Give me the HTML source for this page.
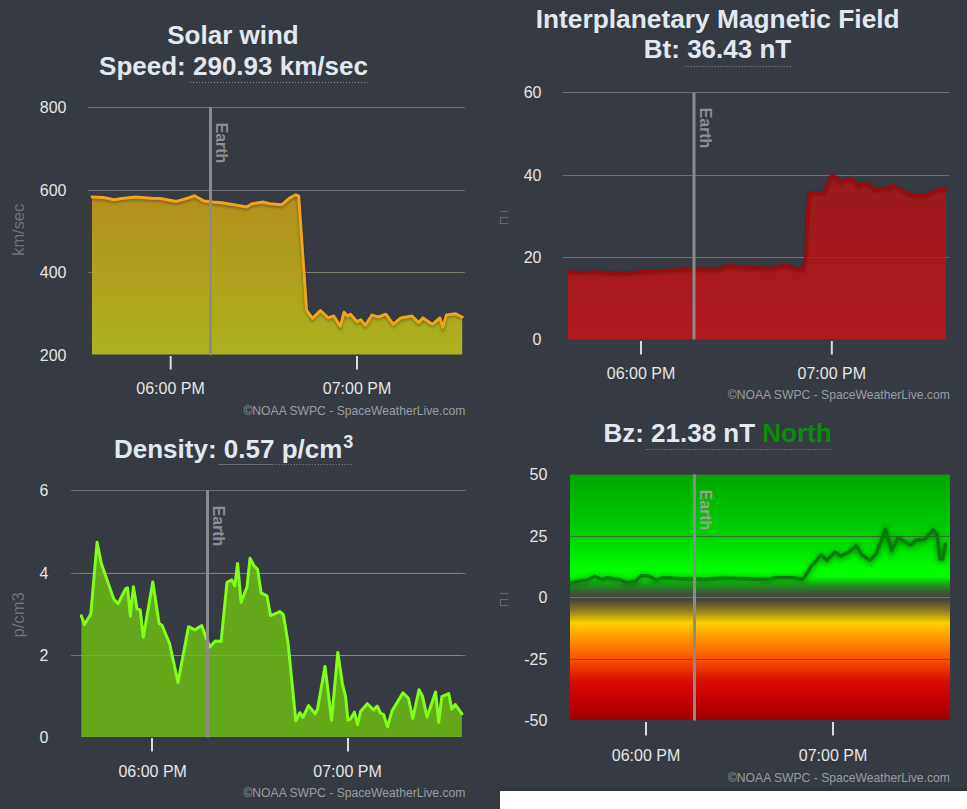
<!DOCTYPE html>
<html><head><meta charset="utf-8"><style>
html,body{margin:0;padding:0;width:967px;height:809px;overflow:hidden;background:#363a42;}
body{position:relative;font-family:"Liberation Sans", sans-serif;}
.t{position:absolute;white-space:nowrap;line-height:1;}
.ttl{font-weight:bold;font-size:26px;color:#e2e8f0;text-align:center;}
.u{border-bottom:1px dotted #8a9098;}
.yl{font-size:16px;color:#e6e6e6;text-align:right;}
.xl{font-size:16px;color:#e6e6e6;text-align:center;}
.cr{font-size:12px;color:#9a9ea4;text-align:right;}
.earth{font-weight:bold;font-size:16px;color:#8e9092;transform-origin:0 0;transform:rotate(90deg);}
.ax{font-size:16px;color:#70747a;transform-origin:0 0;transform:rotate(-90deg);}
</style></head><body>
<svg width="967" height="809" viewBox="0 0 967 809" style="position:absolute;left:0;top:0">
<defs>
<linearGradient id="gsw" x1="0" y1="107" x2="0" y2="355" gradientUnits="userSpaceOnUse">
 <stop offset="0" stop-color="#b8861c"/><stop offset="0.4" stop-color="#b2921c"/><stop offset="1" stop-color="#acb31e"/>
</linearGradient>
<linearGradient id="gimf" x1="0" y1="92" x2="0" y2="340" gradientUnits="userSpaceOnUse">
 <stop offset="0" stop-color="#8f1a1e"/><stop offset="1" stop-color="#b0181c"/>
</linearGradient>
<linearGradient id="gbz" x1="0" y1="474.5" x2="0" y2="720" gradientUnits="userSpaceOnUse">
 <stop offset="0" stop-color="#00a600"/>
 <stop offset="0.2505" stop-color="#00d200"/>
 <stop offset="0.389" stop-color="#00ff00"/>
 <stop offset="0.4175" stop-color="#00fa00"/>
 <stop offset="0.45" stop-color="#1a9a1a"/>
 <stop offset="0.4786" stop-color="#3a5a3a"/>
 <stop offset="0.501" stop-color="#444640"/>
 <stop offset="0.511" stop-color="#4a4438"/>
 <stop offset="0.552" stop-color="#8a7a20"/>
 <stop offset="0.593" stop-color="#e0c000"/>
 <stop offset="0.605" stop-color="#ffd000"/>
 <stop offset="0.654" stop-color="#ffa000"/>
 <stop offset="0.7145" stop-color="#ff7000"/>
 <stop offset="0.776" stop-color="#f04000"/>
 <stop offset="0.837" stop-color="#d81000"/>
 <stop offset="0.898" stop-color="#cc0000"/>
 <stop offset="1" stop-color="#a00000"/>
</linearGradient>
<linearGradient id="gbzfill" x1="0" y1="540" x2="0" y2="597" gradientUnits="userSpaceOnUse">
 <stop offset="0" stop-color="#000" stop-opacity="0.25"/><stop offset="1" stop-color="#000" stop-opacity="0.7"/>
</linearGradient>
<filter id="sh" x="-5%" y="-20%" width="110%" height="140%"><feGaussianBlur stdDeviation="1.5"/></filter>
<filter id="sh2" x="-5%" y="-20%" width="110%" height="140%"><feGaussianBlur stdDeviation="2.5"/></filter><filter id="soft" x="-5%" y="-20%" width="110%" height="140%"><feGaussianBlur stdDeviation="0.5"/></filter>
</defs>
<rect width="967" height="809" fill="#363a42"/>
<line x1="88" y1="107.5" x2="465" y2="107.5" stroke="#6b6e74" stroke-width="1"/>
<line x1="88" y1="190.5" x2="465" y2="190.5" stroke="#6b6e74" stroke-width="1"/>
<line x1="88" y1="272.5" x2="465" y2="272.5" stroke="#6b6e74" stroke-width="1"/>
<path d="M92.0,197.0 L103.6,197.5 L113.9,199.8 L121.8,198.5 L135.5,197.0 L151.4,198.2 L160.5,198.6 L176.4,201.4 L190.0,197.5 L194.5,195.7 L203.6,200.9 L212.7,202.0 L221.8,202.7 L235.5,205.0 L246.8,207.0 L251.4,203.9 L262.7,202.0 L270.0,203.7 L281.9,204.7 L289.8,197.8 L295.7,194.8 L298.7,196.2 L306.6,310.5 L312.5,318.4 L320.4,310.5 L328.2,317.9 L333.8,316.0 L340.3,326.3 L344.0,312.3 L347.7,316.0 L350.5,314.2 L357.0,321.7 L360.8,319.8 L365.4,325.4 L371.9,315.1 L378.4,317.0 L385.9,314.2 L393.3,324.4 L400.8,317.9 L412.0,316.0 L418.5,322.6 L423.1,317.9 L432.4,324.4 L439.9,317.9 L442.7,327.2 L446.4,315.1 L455.7,313.8 L462.2,317.0 L462.2,354.5 L92.0,354.5 Z" fill="url(#gsw)"/>
<line x1="92" y1="272.5" x2="462" y2="272.5" stroke="#c0b040" stroke-opacity="0.25" stroke-width="1"/>
<path d="M92.0,198.5 L103.6,199.0 L113.9,201.3 L121.8,200.0 L135.5,198.5 L151.4,199.7 L160.5,200.1 L176.4,202.9 L190.0,199.0 L194.5,197.2 L203.6,202.4 L212.7,203.5 L221.8,204.2 L235.5,206.5 L246.8,208.5 L251.4,205.4 L262.7,203.5 L270.0,205.2 L281.9,206.2 L289.8,199.3 L295.7,196.3 L298.7,197.7 L306.6,312.0 L312.5,319.9 L320.4,312.0 L328.2,319.4 L333.8,317.5 L340.3,327.8 L344.0,313.8 L347.7,317.5 L350.5,315.7 L357.0,323.2 L360.8,321.3 L365.4,326.9 L371.9,316.6 L378.4,318.5 L385.9,315.7 L393.3,325.9 L400.8,319.4 L412.0,317.5 L418.5,324.1 L423.1,319.4 L432.4,325.9 L439.9,319.4 L442.7,328.7 L446.4,316.6 L455.7,315.3 L462.2,318.5" fill="none" stroke="#000" stroke-opacity="0.35" stroke-width="3" filter="url(#sh)"/>
<path d="M92.0,197.0 L103.6,197.5 L113.9,199.8 L121.8,198.5 L135.5,197.0 L151.4,198.2 L160.5,198.6 L176.4,201.4 L190.0,197.5 L194.5,195.7 L203.6,200.9 L212.7,202.0 L221.8,202.7 L235.5,205.0 L246.8,207.0 L251.4,203.9 L262.7,202.0 L270.0,203.7 L281.9,204.7 L289.8,197.8 L295.7,194.8 L298.7,196.2 L306.6,310.5 L312.5,318.4 L320.4,310.5 L328.2,317.9 L333.8,316.0 L340.3,326.3 L344.0,312.3 L347.7,316.0 L350.5,314.2 L357.0,321.7 L360.8,319.8 L365.4,325.4 L371.9,315.1 L378.4,317.0 L385.9,314.2 L393.3,324.4 L400.8,317.9 L412.0,316.0 L418.5,322.6 L423.1,317.9 L432.4,324.4 L439.9,317.9 L442.7,327.2 L446.4,315.1 L455.7,313.8 L462.2,317.0" fill="none" stroke="#f2a51a" stroke-width="3" stroke-linejoin="round" stroke-linecap="round"/>
<rect x="209" y="107" width="3" height="248" fill="#8a8c8a"/>
<line x1="71" y1="490.5" x2="465.5" y2="490.5" stroke="#6b6e74" stroke-width="1"/>
<line x1="71" y1="573.5" x2="465.5" y2="573.5" stroke="#6b6e74" stroke-width="1"/>
<line x1="71" y1="655.5" x2="465.5" y2="655.5" stroke="#6b6e74" stroke-width="1"/>
<path d="M81.3,615.8 L84.5,624.6 L90.8,614.1 L97.1,542.2 L101.3,563.6 L106.5,578.3 L113.9,599.4 L118.1,603.6 L125.5,588.9 L127.6,587.8 L130.3,616.2 L133.4,586.8 L137.0,608.8 L140.2,609.9 L143.3,637.2 L152.8,582.1 L159.1,623.5 L162.2,625.6 L169.6,643.5 L178.0,682.4 L188.5,626.7 L194.8,629.9 L201.8,625.6 L205.8,637.2 L209.9,646.9 L215.3,641.0 L221.1,641.5 L227.0,582.3 L231.7,579.9 L234.8,585.8 L237.6,563.5 L241.1,602.3 L247.0,587.0 L250.0,558.3 L254.0,565.8 L257.6,569.4 L261.1,592.9 L267.0,595.9 L270.5,615.6 L274.7,614.0 L279.9,611.6 L283.4,614.7 L288.1,643.4 L295.8,720.9 L299.8,712.7 L302.9,717.4 L308.5,705.6 L315.1,713.8 L317.5,709.1 L325.0,666.5 L331.6,720.0 L337.8,652.5 L342.5,684.3 L345.6,696.7 L347.9,720.0 L350.2,719.2 L354.4,712.2 L357.5,724.6 L360.6,711.4 L367.3,703.7 L373.5,709.9 L377.1,706.0 L380.5,713.0 L383.6,714.5 L387.5,726.9 L392.1,710.7 L403.0,692.8 L408.4,698.2 L412.8,718.4 L419.0,689.7 L422.4,695.9 L427.0,716.9 L435.6,692.0 L438.7,722.3 L441.8,696.7 L448.7,693.6 L451.8,709.1 L455.3,704.5 L461.9,713.8 L461.9,737 L81.3,737 Z" fill="#62a81a"/>
<line x1="81" y1="573.3" x2="462" y2="573.3" stroke="#a0d060" stroke-opacity="0.3" stroke-width="1"/>
<line x1="81" y1="655.5" x2="462" y2="655.5" stroke="#a0d060" stroke-opacity="0.3" stroke-width="1"/>
<path d="M81.3,615.8 L84.5,624.6 L90.8,614.1 L97.1,542.2 L101.3,563.6 L106.5,578.3 L113.9,599.4 L118.1,603.6 L125.5,588.9 L127.6,587.8 L130.3,616.2 L133.4,586.8 L137.0,608.8 L140.2,609.9 L143.3,637.2 L152.8,582.1 L159.1,623.5 L162.2,625.6 L169.6,643.5 L178.0,682.4 L188.5,626.7 L194.8,629.9 L201.8,625.6 L205.8,637.2 L209.9,646.9 L215.3,641.0 L221.1,641.5 L227.0,582.3 L231.7,579.9 L234.8,585.8 L237.6,563.5 L241.1,602.3 L247.0,587.0 L250.0,558.3 L254.0,565.8 L257.6,569.4 L261.1,592.9 L267.0,595.9 L270.5,615.6 L274.7,614.0 L279.9,611.6 L283.4,614.7 L288.1,643.4 L295.8,720.9 L299.8,712.7 L302.9,717.4 L308.5,705.6 L315.1,713.8 L317.5,709.1 L325.0,666.5 L331.6,720.0 L337.8,652.5 L342.5,684.3 L345.6,696.7 L347.9,720.0 L350.2,719.2 L354.4,712.2 L357.5,724.6 L360.6,711.4 L367.3,703.7 L373.5,709.9 L377.1,706.0 L380.5,713.0 L383.6,714.5 L387.5,726.9 L392.1,710.7 L403.0,692.8 L408.4,698.2 L412.8,718.4 L419.0,689.7 L422.4,695.9 L427.0,716.9 L435.6,692.0 L438.7,722.3 L441.8,696.7 L448.7,693.6 L451.8,709.1 L455.3,704.5 L461.9,713.8" fill="none" stroke="#80ff1a" stroke-width="3" stroke-linejoin="round" stroke-linecap="round"/>
<rect x="206" y="490.5" width="3" height="247" fill="#8a8c8a"/>
<line x1="563" y1="92.5" x2="949" y2="92.5" stroke="#6b6e74" stroke-width="1"/>
<line x1="563" y1="175.5" x2="949" y2="175.5" stroke="#6b6e74" stroke-width="1"/>
<line x1="563" y1="257.5" x2="949" y2="257.5" stroke="#6b6e74" stroke-width="1"/>
<path d="M568.0,271.7 L581.5,272.3 L597.6,271.7 L617.8,273.6 L640.7,271.7 L667.6,270.1 L693.1,269.0 L710.6,269.0 L716.0,270.1 L728.0,265.5 L748.2,267.4 L772.4,268.2 L785.6,265.2 L796.1,268.4 L803.3,270.0 L805.7,256.4 L808.1,201.8 L809.7,192.9 L814.5,192.1 L824.2,192.9 L831.4,175.3 L835.5,176.5 L840.5,182.3 L849.6,178.2 L853.7,179.9 L858.7,186.5 L862.8,183.2 L867.8,184.8 L870.3,184.0 L874.4,189.8 L882.7,188.1 L886.0,187.3 L889.3,189.0 L893.4,184.8 L900.9,189.8 L912.5,195.6 L924.0,195.6 L935.6,190.6 L943.0,188.1 L946.0,189.8 L946.0,339.6 L568.0,339.6 Z" fill="url(#gimf)"/>
<line x1="568" y1="257.5" x2="946" y2="257.5" stroke="#ff6060" stroke-opacity="0.18" stroke-width="1"/>
<path d="M568.0,272.7 L581.5,273.3 L597.6,272.7 L617.8,274.6 L640.7,272.7 L667.6,271.1 L693.1,270.0 L710.6,270.0 L716.0,271.1 L728.0,266.5 L748.2,268.4 L772.4,269.2 L785.6,266.2 L796.1,269.4 L803.3,271.0 L805.7,257.4 L808.1,202.8 L809.7,193.9 L814.5,193.1 L824.2,193.9 L831.4,176.3 L835.5,177.5 L840.5,183.3 L849.6,179.2 L853.7,180.9 L858.7,187.5 L862.8,184.2 L867.8,185.8 L870.3,185.0 L874.4,190.8 L882.7,189.1 L886.0,188.3 L889.3,190.0 L893.4,185.8 L900.9,190.8 L912.5,196.6 L924.0,196.6 L935.6,191.6 L943.0,189.1 L946.0,190.8" fill="none" stroke="#000" stroke-opacity="0.3" stroke-width="3" filter="url(#sh)"/>
<path d="M568.0,271.7 L581.5,272.3 L597.6,271.7 L617.8,273.6 L640.7,271.7 L667.6,270.1 L693.1,269.0 L710.6,269.0 L716.0,270.1 L728.0,265.5 L748.2,267.4 L772.4,268.2 L785.6,265.2 L796.1,268.4 L803.3,270.0 L805.7,256.4 L808.1,201.8 L809.7,192.9 L814.5,192.1 L824.2,192.9 L831.4,175.3 L835.5,176.5 L840.5,182.3 L849.6,178.2 L853.7,179.9 L858.7,186.5 L862.8,183.2 L867.8,184.8 L870.3,184.0 L874.4,189.8 L882.7,188.1 L886.0,187.3 L889.3,189.0 L893.4,184.8 L900.9,189.8 L912.5,195.6 L924.0,195.6 L935.6,190.6 L943.0,188.1 L946.0,189.8" fill="none" stroke="#9c0a0e" stroke-width="2.8" stroke-linejoin="round" stroke-linecap="round"/>
<rect x="692.5" y="92.5" width="3" height="247" fill="#8a8c8a"/>
<rect x="570" y="474.5" width="380" height="245.5" fill="url(#gbz)"/>
<line x1="570" y1="474.5" x2="950" y2="474.5" stroke="#444" stroke-opacity="0.65" stroke-width="1"/>
<line x1="570" y1="536.5" x2="950" y2="536.5" stroke="#444" stroke-opacity="0.65" stroke-width="1"/>
<line x1="570" y1="659.5" x2="950" y2="659.5" stroke="#444" stroke-opacity="0.65" stroke-width="1"/>
<line x1="570" y1="597.5" x2="950" y2="597.5" stroke="#707276" stroke-width="1.2"/>
<path d="M570.0,584.0 L571.5,583.8 L580.5,581.7 L587.0,581.2 L594.7,577.0 L601.2,580.4 L607.7,578.6 L615.4,580.4 L619.3,580.4 L627.0,583.8 L636.1,582.2 L641.3,576.5 L649.0,577.0 L656.8,581.2 L661.9,578.6 L671.0,579.1 L683.9,579.6 L693.0,579.6 L704.6,580.4 L720.1,579.1 L746.0,579.6 L769.2,580.4 L775.7,578.6 L792.5,578.6 L802.8,580.4 L808.0,572.6 L811.9,566.2 L814.3,564.1 L821.2,555.7 L826.8,561.3 L835.2,552.9 L840.8,557.1 L849.2,552.9 L856.2,546.7 L861.7,555.7 L870.1,561.3 L875.7,555.7 L885.5,530.5 L891.6,551.5 L898.0,538.9 L910.6,545.9 L916.2,541.2 L924.6,540.3 L933.0,531.1 L937.1,536.1 L939.9,559.9 L942.7,559.9 L945.5,544.5" fill="none" stroke="#004000" stroke-opacity="0.45" stroke-width="5" filter="url(#sh2)"/>
<path d="M570.0,583.0 L571.5,582.8 L580.5,580.7 L587.0,580.2 L594.7,576.0 L601.2,579.4 L607.7,577.6 L615.4,579.4 L619.3,579.4 L627.0,582.8 L636.1,581.2 L641.3,575.5 L649.0,576.0 L656.8,580.2 L661.9,577.6 L671.0,578.1 L683.9,578.6 L693.0,578.6 L704.6,579.4 L720.1,578.1 L746.0,578.6 L769.2,579.4 L775.7,577.6 L792.5,577.6 L802.8,579.4 L808.0,571.6 L811.9,565.2 L814.3,563.1 L821.2,554.7 L826.8,560.3 L835.2,551.9 L840.8,556.1 L849.2,551.9 L856.2,545.7 L861.7,554.7 L870.1,560.3 L875.7,554.7 L885.5,529.5 L891.6,550.5 L898.0,537.9 L910.6,544.9 L916.2,540.2 L924.6,539.3 L933.0,530.1 L937.1,535.1 L939.9,558.9 L942.7,558.9 L945.5,543.5" fill="none" stroke="#0a780a" stroke-width="3.2" stroke-linejoin="round" stroke-linecap="round" filter="url(#soft)"/>
<rect x="693" y="474.5" width="3" height="246" fill="#8a8c8a"/>
<rect x="169.7" y="356" width="2" height="13.5" fill="#d8dce0"/>
<rect x="356" y="356" width="2" height="13.5" fill="#d8dce0"/>
<rect x="151" y="738" width="2" height="13.5" fill="#d8dce0"/>
<rect x="347" y="738" width="2" height="13.5" fill="#d8dce0"/>
<rect x="640" y="341" width="2" height="13.5" fill="#d8dce0"/>
<rect x="830.8" y="341" width="2" height="13.5" fill="#d8dce0"/>
<rect x="645" y="722" width="2" height="13.5" fill="#d8dce0"/>
<rect x="832" y="722" width="2" height="13.5" fill="#d8dce0"/>
<text x="233" y="43.5" font-family="Liberation Sans, sans-serif" font-size="26" fill="#e2e8f0" text-anchor="middle" font-weight="bold" >Solar wind</text>
<text x="233.5" y="75" font-family="Liberation Sans, sans-serif" font-size="26" fill="#e2e8f0" text-anchor="middle" font-weight="bold" >Speed: 290.93 km/sec</text>
<line x1="190" y1="82.5" x2="367.6" y2="82.5" stroke="#8a9098" stroke-width="1" stroke-dasharray="1,2"/>
<text x="717.7" y="28" font-family="Liberation Sans, sans-serif" font-size="26" fill="#e2e8f0" text-anchor="middle" font-weight="bold" textLength="364" lengthAdjust="spacingAndGlyphs">Interplanetary Magnetic Field</text>
<text x="717.5" y="58" font-family="Liberation Sans, sans-serif" font-size="26" fill="#e2e8f0" text-anchor="middle" font-weight="bold" >Bt: 36.43 nT</text>
<line x1="684.6" y1="66.5" x2="791" y2="66.5" stroke="#8a9098" stroke-width="1" stroke-dasharray="1,2"/>
<text x="114" y="457.7" font-family="Liberation Sans, sans-serif" font-size="26" fill="#e2e8f0" text-anchor="start" font-weight="bold" >Density: 0.57 p/cm<tspan dy="-10" dx="1" font-size="18">3</tspan></text>
<line x1="218.7" y1="464.5" x2="354" y2="464.5" stroke="#8a9098" stroke-width="1" stroke-dasharray="1,2"/>
<line x1="218.7" y1="464.5" x2="272" y2="464.5" stroke="#6a6e74" stroke-width="1"/>
<text x="603.4" y="441.7" font-family="Liberation Sans, sans-serif" font-size="26" fill="#e2e8f0" text-anchor="start" font-weight="bold" >Bz: 21.38 nT <tspan fill="#0e8a0e">North</tspan></text>
<line x1="646.5" y1="449.5" x2="832" y2="449.5" stroke="#8a9098" stroke-width="1" stroke-dasharray="1,2"/>
<text x="66.5" y="113" font-family="Liberation Sans, sans-serif" font-size="16" fill="#e6e6e6" text-anchor="end" font-weight="normal" >800</text>
<text x="66.5" y="195.5" font-family="Liberation Sans, sans-serif" font-size="16" fill="#e6e6e6" text-anchor="end" font-weight="normal" >600</text>
<text x="66.5" y="278" font-family="Liberation Sans, sans-serif" font-size="16" fill="#e6e6e6" text-anchor="end" font-weight="normal" >400</text>
<text x="66.5" y="360.5" font-family="Liberation Sans, sans-serif" font-size="16" fill="#e6e6e6" text-anchor="end" font-weight="normal" >200</text>
<text x="541.5" y="98" font-family="Liberation Sans, sans-serif" font-size="16" fill="#e6e6e6" text-anchor="end" font-weight="normal" >60</text>
<text x="541.5" y="180.5" font-family="Liberation Sans, sans-serif" font-size="16" fill="#e6e6e6" text-anchor="end" font-weight="normal" >40</text>
<text x="541.5" y="263" font-family="Liberation Sans, sans-serif" font-size="16" fill="#e6e6e6" text-anchor="end" font-weight="normal" >20</text>
<text x="541.5" y="345" font-family="Liberation Sans, sans-serif" font-size="16" fill="#e6e6e6" text-anchor="end" font-weight="normal" >0</text>
<text x="48.5" y="496" font-family="Liberation Sans, sans-serif" font-size="16" fill="#e6e6e6" text-anchor="end" font-weight="normal" >6</text>
<text x="48.5" y="578.6" font-family="Liberation Sans, sans-serif" font-size="16" fill="#e6e6e6" text-anchor="end" font-weight="normal" >4</text>
<text x="48.5" y="661" font-family="Liberation Sans, sans-serif" font-size="16" fill="#e6e6e6" text-anchor="end" font-weight="normal" >2</text>
<text x="48.5" y="743" font-family="Liberation Sans, sans-serif" font-size="16" fill="#e6e6e6" text-anchor="end" font-weight="normal" >0</text>
<text x="547.3" y="480" font-family="Liberation Sans, sans-serif" font-size="16" fill="#e6e6e6" text-anchor="end" font-weight="normal" >50</text>
<text x="547.3" y="542" font-family="Liberation Sans, sans-serif" font-size="16" fill="#e6e6e6" text-anchor="end" font-weight="normal" >25</text>
<text x="547.3" y="603" font-family="Liberation Sans, sans-serif" font-size="16" fill="#e6e6e6" text-anchor="end" font-weight="normal" >0</text>
<text x="547.3" y="664.5" font-family="Liberation Sans, sans-serif" font-size="16" fill="#e6e6e6" text-anchor="end" font-weight="normal" >-25</text>
<text x="547.3" y="725.5" font-family="Liberation Sans, sans-serif" font-size="16" fill="#e6e6e6" text-anchor="end" font-weight="normal" >-50</text>
<text x="170.5" y="394" font-family="Liberation Sans, sans-serif" font-size="16" fill="#e6e6e6" text-anchor="middle" font-weight="normal" >06:00 PM</text>
<text x="357" y="394" font-family="Liberation Sans, sans-serif" font-size="16" fill="#e6e6e6" text-anchor="middle" font-weight="normal" >07:00 PM</text>
<text x="152.7" y="777" font-family="Liberation Sans, sans-serif" font-size="16" fill="#e6e6e6" text-anchor="middle" font-weight="normal" >06:00 PM</text>
<text x="347.5" y="777" font-family="Liberation Sans, sans-serif" font-size="16" fill="#e6e6e6" text-anchor="middle" font-weight="normal" >07:00 PM</text>
<text x="641" y="379" font-family="Liberation Sans, sans-serif" font-size="16" fill="#e6e6e6" text-anchor="middle" font-weight="normal" >06:00 PM</text>
<text x="831.8" y="379" font-family="Liberation Sans, sans-serif" font-size="16" fill="#e6e6e6" text-anchor="middle" font-weight="normal" >07:00 PM</text>
<text x="646" y="760.5" font-family="Liberation Sans, sans-serif" font-size="16" fill="#e6e6e6" text-anchor="middle" font-weight="normal" >06:00 PM</text>
<text x="833" y="760.5" font-family="Liberation Sans, sans-serif" font-size="16" fill="#e6e6e6" text-anchor="middle" font-weight="normal" >07:00 PM</text>
<text x="243.4" y="415.2" font-family="Liberation Sans, sans-serif" font-size="13" fill="#9a9ea4" textLength="222" lengthAdjust="spacingAndGlyphs">©NOAA SWPC - SpaceWeatherLive.com</text>
<text x="727.8" y="399.4" font-family="Liberation Sans, sans-serif" font-size="13" fill="#9a9ea4" textLength="222" lengthAdjust="spacingAndGlyphs">©NOAA SWPC - SpaceWeatherLive.com</text>
<text x="243.4" y="797.2" font-family="Liberation Sans, sans-serif" font-size="13" fill="#9a9ea4" textLength="222" lengthAdjust="spacingAndGlyphs">©NOAA SWPC - SpaceWeatherLive.com</text>
<text x="727.9" y="781.8" font-family="Liberation Sans, sans-serif" font-size="13" fill="#9a9ea4" textLength="222" lengthAdjust="spacingAndGlyphs">©NOAA SWPC - SpaceWeatherLive.com</text>
<text transform="translate(215.8,122.7) rotate(90)" font-family="Liberation Sans, sans-serif" font-size="16" font-weight="bold" fill="#8c8e90" textLength="40.5" lengthAdjust="spacingAndGlyphs">Earth</text>
<text transform="translate(699.8,107.8) rotate(90)" font-family="Liberation Sans, sans-serif" font-size="16" font-weight="bold" fill="#8c8e90" textLength="40.5" lengthAdjust="spacingAndGlyphs">Earth</text>
<text transform="translate(212.8,505.8) rotate(90)" font-family="Liberation Sans, sans-serif" font-size="16" font-weight="bold" fill="#8c8e90" textLength="40.5" lengthAdjust="spacingAndGlyphs">Earth</text>
<text transform="translate(700.3,489.8) rotate(90)" font-family="Liberation Sans, sans-serif" font-size="16" font-weight="bold" fill="#9aa09a" textLength="40.5" lengthAdjust="spacingAndGlyphs">Earth</text>
<text transform="translate(24,255.8) rotate(-90)" font-family="Liberation Sans, sans-serif" font-size="16" fill="#70747a" textLength="52" lengthAdjust="spacingAndGlyphs">km/sec</text>
<text transform="translate(23.8,637.6) rotate(-90)" font-family="Liberation Sans, sans-serif" font-size="16" fill="#70747a" textLength="45.5" lengthAdjust="spacingAndGlyphs">p/cm3</text>
<path d="M500,211.5 H508.5 M508.5,217.5 H500.5 V223.5 H508.5" fill="none" stroke="#64686e" stroke-width="1.1"/>
<path d="M500,593.5 H508.5 M508.5,599.5 H500.5 V605.5 H508.5" fill="none" stroke="#64686e" stroke-width="1.1"/>
<rect x="500" y="788" width="467" height="3" fill="#31343a"/>
<rect x="500" y="791" width="467" height="18" fill="#ffffff"/>
</svg>
</body></html>
